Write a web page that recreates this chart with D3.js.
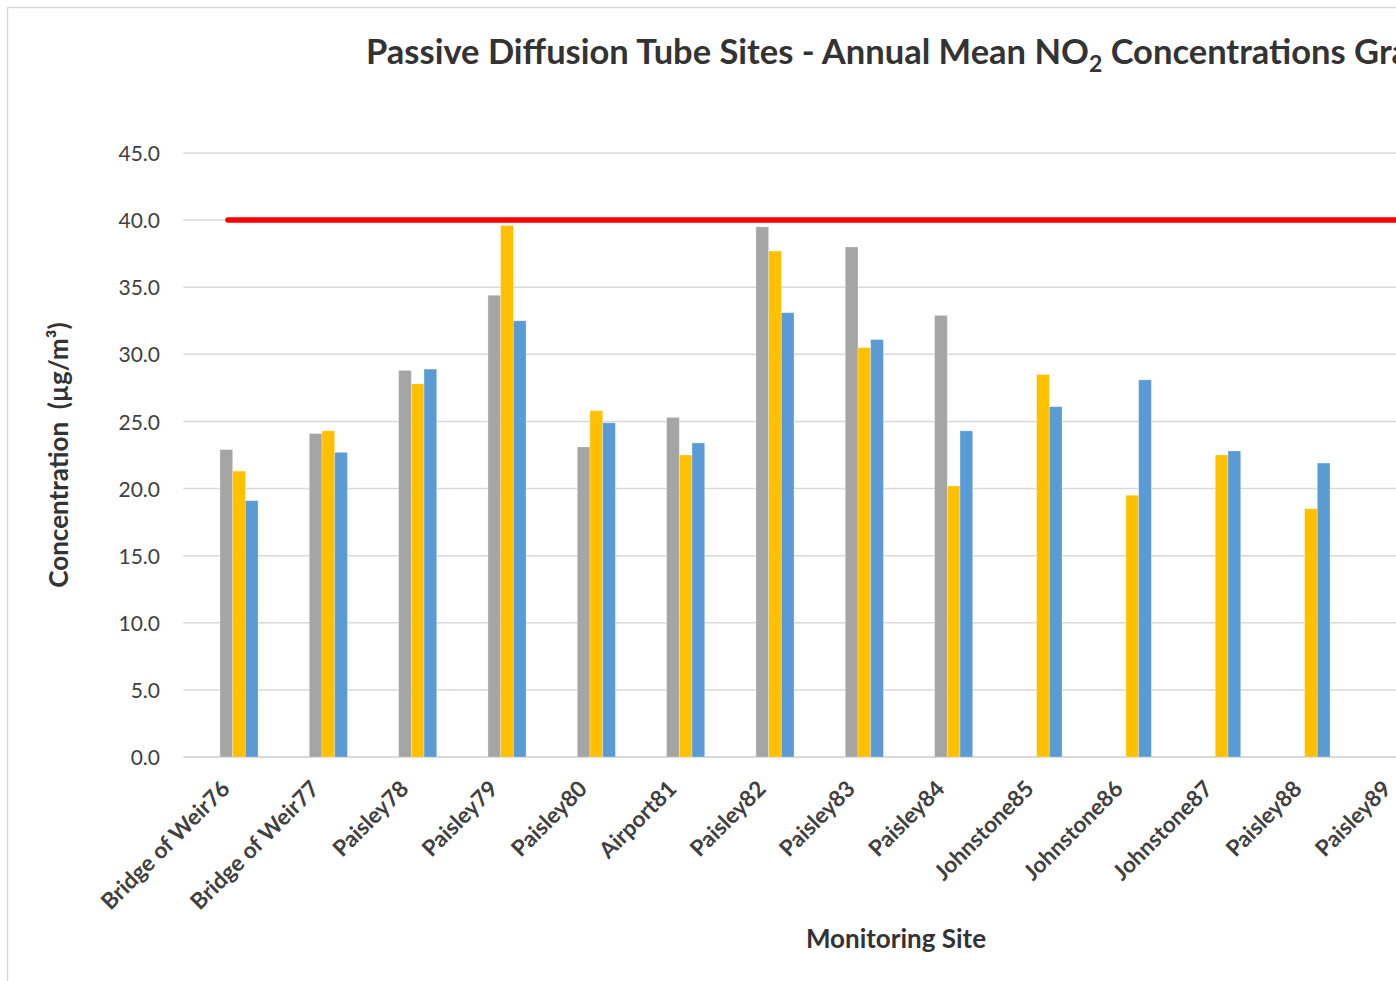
<!DOCTYPE html>
<html>
<head>
<meta charset="utf-8">
<script src="https://cdn.jsdelivr.net/npm/d3@7"></script>
<style>
  html, body { margin: 0; padding: 0; background: #fff; overflow: hidden; }
  svg { display: block; }
  text { font-family: Lato, "Open Sans", sans-serif; }
</style>
</head>
<body>
<div id="chart"></div>
<script>
// ---- data ----
const categories = ["Bridge of Weir76","Bridge of Weir77","Paisley78","Paisley79","Paisley80","Airport81","Paisley82","Paisley83","Paisley84","Johnstone85","Johnstone86","Johnstone87","Paisley88","Paisley89"];
const seriesNames = ["Series A","Series B","Series C"];
const seriesA = [22.9,24.1,28.8,34.4,23.1,25.3,39.5,38.0,32.9,null,null,null,null,null];
const seriesB = [21.3,24.3,27.8,39.6,25.8,22.5,37.7,30.5,20.2,28.5,19.5,22.5,18.5,null];
const seriesC = [19.1,22.7,28.9,32.5,24.9,23.4,33.1,31.1,24.3,26.1,28.1,22.8,21.9,null];
const limitValue = [40];
const yTicks = [0,5,10,15,20,25,30,35,40,45];
const titleMain = "Passive Diffusion Tube Sites - Annual Mean NO";
const titleSub = "2";
const titleRest = " Concentrations Graph";

// ---- layout ----
const W = 1396, H = 981;
const plotLeft = 183.3, plotTop = 153, plotBottom = 757;
const step = 89.33;
const barW = 12.7, barOffset = -8;
const colors = ["#A5A5A5","#FFC000","#5B9BD5"];

const svg = d3.select("#chart").append("svg").attr("width", W).attr("height", H);

// chart area border
svg.append("rect").attr("x", 7.5).attr("y", 7.5).attr("width", 2400).attr("height", 980)
  .attr("fill", "#fff").attr("stroke", "#D9D9D9").attr("stroke-width", 1.5);

const x = d3.scaleBand().domain(categories).range([plotLeft, plotLeft + step * categories.length]).padding(0);
const x1 = d3.scaleBand().domain(seriesNames).range([barOffset, barOffset + barW * seriesNames.length]);
const y = d3.scaleLinear().domain([0, 45]).range([plotBottom, plotTop]);
const cx = c => x(c) + x.bandwidth() / 2;

// gridlines
svg.append("g").selectAll("line").data(yTicks).join("line")
  .attr("x1", plotLeft).attr("x2", W + 10)
  .attr("y1", d => y(d)).attr("y2", d => y(d))
  .attr("stroke", "#D9D9D9").attr("stroke-width", d => d === 0 ? 2 : 1.5);

// y axis labels via d3 axis
const yAxis = d3.axisLeft(y).tickValues(yTicks).tickFormat(d3.format(".1f")).tickSize(0).tickPadding(0);
const gy = svg.append("g").attr("transform", `translate(160,0)`).call(yAxis);
gy.select(".domain").remove();
gy.selectAll("text").attr("font-size", 21).attr("fill", "#404040").attr("font-family", "Lato").attr("dy", "0.36em");

// bars
const allSeries = [seriesA, seriesB, seriesC];
const rows = [];
allSeries.forEach((vals, si) => vals.forEach((v, ci) => {
  if (v != null) rows.push({ cat: categories[ci], s: seriesNames[si], v, color: colors[si] });
}));
svg.append("g").selectAll("rect").data(rows).join("rect")
  .attr("x", d => cx(d.cat) + x1(d.s))
  .attr("width", x1.bandwidth())
  .attr("y", d => y(d.v))
  .attr("height", d => y(0) - y(d.v))
  .attr("fill", d => d.color)
  .attr("stroke", "#fff").attr("stroke-opacity", 0.35).attr("stroke-width", 0.8);

// limit line
const limitPts = [[cx(categories[0]), limitValue[0]], [W + 20, limitValue[0]]];
svg.append("path").datum(limitPts)
  .attr("d", d3.line().x(d => d[0]).y(d => y(d[1])))
  .attr("stroke", "#FF0000").attr("stroke-width", 5.5).attr("stroke-linecap", "round").attr("fill", "none");

// x axis labels
const xAxis = d3.axisBottom(x).tickSize(0).tickPadding(0);
const gx = svg.append("g").attr("transform", `translate(0,${plotBottom})`).call(xAxis);
gx.select(".domain").remove();
gx.selectAll("text")
  .attr("font-size", 22.5).attr("font-weight", "bold").attr("fill", "#404040").attr("font-family", "Lato")
  .attr("text-anchor", "end").attr("dy", "0.71em").attr("y", 0)
  .attr("transform", "translate(-8,22) rotate(-45)");

// title
const title = svg.append("text").attr("x", 366).attr("y", 64)
  .attr("font-size", 34.5).attr("font-weight", "bold").attr("fill", "#333333");
title.append("tspan").text(titleMain);
title.append("tspan").text(titleSub).attr("font-size", 23).attr("dy", 8);
title.append("tspan").text(titleRest).attr("dy", -8);

// axis titles
svg.append("text").attr("x", 896).attr("y", 948).attr("text-anchor", "middle")
  .attr("font-size", 26).attr("font-weight", "bold").attr("fill", "#333333").text("Monitoring Site");
svg.append("text").attr("transform", `translate(68,${(plotTop + plotBottom) / 2}) rotate(-90)`)
  .attr("text-anchor", "middle").attr("font-size", 26).attr("font-weight", "bold").attr("fill", "#333333")
  .style("white-space", "pre").text("Concentration  (µg/m³)");
</script>
</body>
</html>
